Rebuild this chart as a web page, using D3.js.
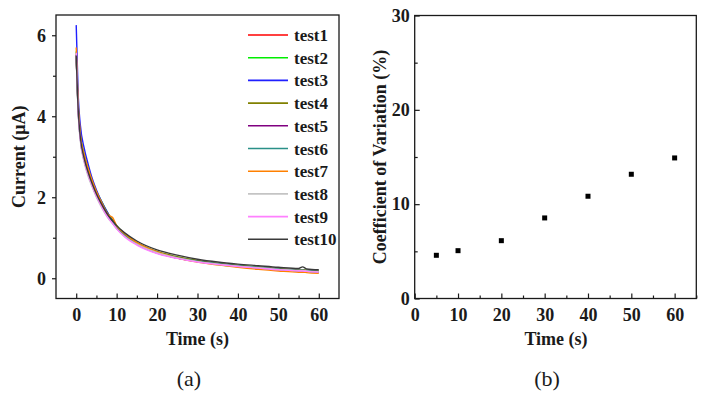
<!DOCTYPE html>
<html><head><meta charset="utf-8">
<script src="https://cdn.jsdelivr.net/npm/d3@7"></script>
<style>body{margin:0;background:#fff}svg{display:block}
svg text{font-family:"Liberation Serif","Times New Roman",Tinos,serif;}
</style>
</head><body>
<svg id="c" width="706" height="401"></svg>
<script>
const times = [0, 0.5, 1, 2, 3, 4, 5, 6, 8, 9, 10, 12, 15, 20, 25, 30, 35, 40, 45, 50, 55, 56, 57, 60];
const seriesNames = ["test1","test2","test3","test4","test5","test6","test7","test8","test9","test10"];
const seriesColors = ["#ff0000","#00ee00","#2020ff","#808000","#800080","#2a9088","#ff8000","#c4c4c4","#ff80ff","#3a3a3a"];
const test1 = [5.5, 4.2, 3.55, 3.0, 2.65, 2.36, 2.1, 1.9, 1.55, 1.42, 1.28, 1.08, 0.86, 0.64, 0.51, 0.42, 0.35, 0.3, 0.26, 0.22, 0.19, 0.19, 0.18, 0.16];
const test2 = [5.6, 4.25, 3.6, 3.05, 2.7, 2.4, 2.15, 1.95, 1.58, 1.44, 1.3, 1.09, 0.87, 0.64, 0.51, 0.41, 0.34, 0.29, 0.25, 0.21, 0.18, 0.18, 0.17, 0.15];
const test3 = [6.25, 4.5, 3.8, 3.2, 2.8, 2.45, 2.18, 1.95, 1.58, 1.42, 1.27, 1.05, 0.84, 0.62, 0.5, 0.41, 0.35, 0.3, 0.26, 0.22, 0.19, 0.19, 0.18, 0.16];
const test4 = [5.5, 4.15, 3.5, 2.95, 2.6, 2.32, 2.08, 1.88, 1.54, 1.42, 1.28, 1.08, 0.88, 0.66, 0.53, 0.44, 0.37, 0.32, 0.28, 0.24, 0.21, 0.21, 0.2, 0.18];
const test5 = [5.5, 4.1, 3.45, 2.9, 2.55, 2.28, 2.04, 1.85, 1.5, 1.38, 1.25, 1.05, 0.85, 0.63, 0.5, 0.41, 0.35, 0.3, 0.26, 0.22, 0.19, 0.19, 0.18, 0.16];
const test6 = [5.5, 4.1, 3.45, 2.9, 2.55, 2.27, 2.03, 1.84, 1.5, 1.38, 1.25, 1.06, 0.86, 0.64, 0.51, 0.42, 0.36, 0.31, 0.27, 0.23, 0.2, 0.2, 0.19, 0.17];
const test7 = [5.7, 4.3, 3.6, 3.05, 2.7, 2.4, 2.14, 1.93, 1.56, 1.5, 1.3, 1.1, 0.88, 0.65, 0.5, 0.4, 0.33, 0.27, 0.22, 0.18, 0.15, 0.15, 0.14, 0.12];
const test8 = [5.5, 4.05, 3.4, 2.85, 2.5, 2.24, 2.0, 1.8, 1.47, 1.35, 1.22, 1.03, 0.84, 0.63, 0.5, 0.41, 0.35, 0.3, 0.26, 0.22, 0.19, 0.19, 0.18, 0.16];
const test9 = [5.57, 4.1, 3.45, 2.9, 2.55, 2.27, 2.03, 1.83, 1.48, 1.35, 1.22, 1.02, 0.82, 0.61, 0.49, 0.4, 0.34, 0.29, 0.25, 0.21, 0.18, 0.18, 0.17, 0.15];
const test10 = [5.5, 4.15, 3.5, 2.95, 2.6, 2.32, 2.08, 1.88, 1.54, 1.42, 1.3, 1.12, 0.92, 0.7, 0.57, 0.47, 0.4, 0.35, 0.31, 0.27, 0.24, 0.28, 0.23, 0.21];
const seriesValues = [test1,test2,test3,test4,test5,test6,test7,test8,test9,test10];

const cvTimes = [5, 10, 20, 30, 40, 50, 60];
const cvValues = [4.58, 5.07, 6.13, 8.54, 10.84, 13.17, 14.9];

const xTicksA = [0,10,20,30,40,50,60];
const yTicksA = [0,2,4,6];
const xTicksB = [0,10,20,30,40,50,60];
const yTicksB = [0,10,20,30];

const svg = d3.select("#c");
const ink = "#1a1a1a";
const fmt = d3.format("d");

function frame(g, L, T, R, B) {
  g.append("rect").attr("x", L).attr("y", T).attr("width", R - L).attr("height", B - T)
    .attr("fill", "none").attr("stroke", ink).attr("stroke-width", 1.3);
}
function styleAxes(axes, labelled) {
  axes.forEach(a => {
    a.attr("font-family", null).attr("font-size", null);
    a.select(".domain").remove();
    a.selectAll("line").attr("stroke", ink).attr("stroke-width", 1.2);
  });
  labelled.forEach(a => a.selectAll("text").style("font-weight", "bold").style("font-size", "18px").attr("fill", ink));
}
function label(g, x, y, t, size, bold, rot) {
  const el = g.append("text").attr("text-anchor", "middle").text(t)
    .style("font-size", size + "px").style("font-weight", bold ? "bold" : "normal").attr("fill", ink);
  if (rot) el.attr("transform", `translate(${x},${y}) rotate(-90)`);
  else el.attr("x", x).attr("y", y);
  return el;
}

// ---------- Panel (a)
{
  const L = 56, R = 339, T = 15, B = 298.5;
  const x = d3.scaleLinear().domain([-5, 65]).range([L, R]);
  const y = d3.scaleLinear().domain([-0.5, 6.5]).range([B, T]);
  const g = svg.append("g");
  const line = d3.line().x((d, i) => x(times[i])).y(d => y(d)).curve(d3.curveMonotoneX);
  seriesValues.forEach((vals, k) => {
    g.append("path").attr("d", line(vals)).attr("fill", "none")
      .attr("stroke", seriesColors[k]).attr("stroke-width", 1.4);
  });
  const xa = g.append("g").attr("transform", `translate(0,${B})`)
    .call(d3.axisBottom(x).tickValues(xTicksA).tickFormat(fmt).tickSizeInner(-5).tickSizeOuter(0).tickPadding(10));
  const xm = g.append("g").attr("transform", `translate(0,${B})`)
    .call(d3.axisBottom(x).tickValues(xTicksA.slice(0, -1).map(v => v + 5)).tickSizeInner(-3).tickSizeOuter(0).tickFormat(""));
  const ya = g.append("g").attr("transform", `translate(${L},0)`)
    .call(d3.axisLeft(y).tickValues(yTicksA).tickFormat(fmt).tickSizeInner(4).tickSizeOuter(0).tickPadding(6));
  const ym = g.append("g").attr("transform", `translate(${L},0)`)
    .call(d3.axisLeft(y).tickValues(yTicksA.slice(0, -1).map(v => v + 1)).tickSizeInner(3).tickSizeOuter(0).tickFormat(""));
  styleAxes([xa, xm, ya, ym], [xa, ya]);
  xa.selectAll("text").attr("dy", "0.71em").attr("y", 10);
  frame(g, L, T, R, B);
  seriesNames.forEach((n, k) => {
    const yy = 35 + k * 22.7;
    g.append("line").attr("x1", 248).attr("x2", 288).attr("y1", yy).attr("y2", yy)
      .attr("stroke", seriesColors[k]).attr("stroke-width", 1.6);
    g.append("text").attr("x", 294).attr("y", yy + 6).text(n)
      .style("font-weight", "bold").style("font-size", "17px").attr("fill", ink);
  });
  label(g, (L + R) / 2, 345, "Time (s)", 18, true, false);
  label(g, 25, (T + B) / 2, "Current (μA)", 18, true, true);
  label(g, 189, 386, "(a)", 22, false, false);
}

// ---------- Panel (b)
{
  const L = 414.7, R = 696.3, T = 15.5, B = 298.5;
  const x = d3.scaleLinear().domain([0, 65]).range([L, R]);
  const y = d3.scaleLinear().domain([0, 30]).range([B, T]);
  const g = svg.append("g");
  const xa = g.append("g").attr("transform", `translate(0,${B})`)
    .call(d3.axisBottom(x).tickValues(xTicksB).tickFormat(fmt).tickSizeInner(-5).tickSizeOuter(0).tickPadding(10));
  const xm = g.append("g").attr("transform", `translate(0,${B})`)
    .call(d3.axisBottom(x).tickValues(xTicksB.map(v => v + 5)).tickSizeInner(-3).tickSizeOuter(0).tickFormat(""));
  const ya = g.append("g").attr("transform", `translate(${L},0)`)
    .call(d3.axisLeft(y).tickValues(yTicksB).tickFormat(fmt).tickSizeInner(-5).tickSizeOuter(0).tickPadding(5));
  const ym = g.append("g").attr("transform", `translate(${L},0)`)
    .call(d3.axisLeft(y).tickValues(yTicksB.slice(0, -1).map(v => v + 5)).tickSizeInner(-3).tickSizeOuter(0).tickFormat(""));
  styleAxes([xa, xm, ya, ym], [xa, ya]);
  xa.selectAll("text").attr("dy", "0.71em").attr("y", 10);
  frame(g, L, T, R, B);
  g.selectAll("rect.pt").data(cvValues).join("rect").attr("class", "pt")
    .attr("x", (d, i) => x(cvTimes[i]) - 2.5).attr("y", d => y(d) - 2.5)
    .attr("width", 5).attr("height", 5).attr("fill", "#000");
  label(g, 556, 345, "Time (s)", 18, true, false);
  label(g, 386, (T + B) / 2, "Coefficient of Variation (%)", 18, true, true);
  label(g, 547, 386, "(b)", 22, false, false);
}
</script>
</body></html>
